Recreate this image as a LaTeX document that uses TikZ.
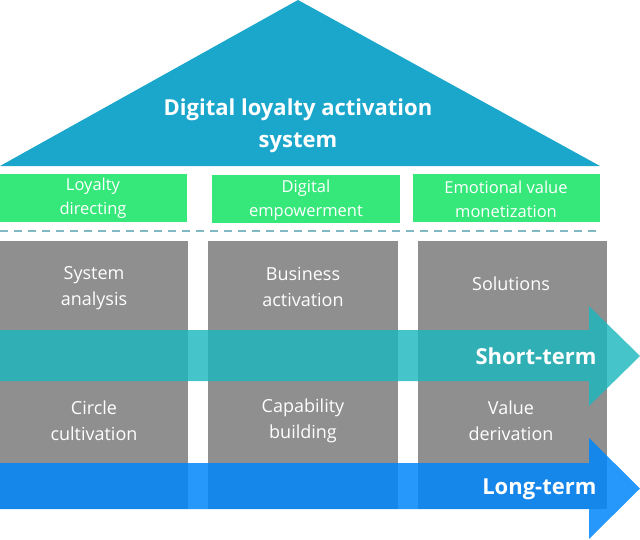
\documentclass[tikz,border=0pt]{standalone}
\usepackage{fontspec}
\setmainfont{Open Sans}
\definecolor{roofc}{RGB}{26,167,203}
\definecolor{greenc}{RGB}{54,232,122}
\definecolor{grayc}{RGB}{143,143,143}
\definecolor{dashc}{RGB}{128,184,196}
\definecolor{shortc}{RGB}{28,183,189}
\definecolor{longc}{RGB}{0,134,250}
\tikzset{
  pillartext/.style={text=white, align=center, font=\fontsize{18}{26}\selectfont},
  greentext/.style={text=white, align=center, font=\fontsize{16.5}{24}\selectfont},
  arrowtext/.style={text=white, anchor=east, font=\bfseries\fontsize{22}{26}\selectfont},
}
\begin{document}
\begin{tikzpicture}[x=1pt,y=-1pt]
\useasboundingbox (0,0) rectangle (640,539);
% roof
\fill[roofc] (298,0) -- (600,166) -- (0,166) -- cycle;
\node[text=white, align=center, font=\bfseries\fontsize{22}{32}\selectfont] (title) at (298,126) {Digital loyalty activation\\system};
% green boxes
\fill[greenc] (0,174) rectangle (187,222);
\fill[greenc] (212,175) rectangle (400,223);
\fill[greenc] (413,174) rectangle (600,222);
\node[greentext] (g1) at (93,198) {Loyalty\\directing};
\node[greentext] (g2) at (306,200) {Digital\\empowerment};
\node[greentext] (g3) at (506,199) {Emotional value\\monetization};
% dashed line
\draw[dashc, line width=2pt, dash pattern=on 8pt off 6pt] (0,231) -- (600,231);
% gray pillars
\fill[grayc] (0,241) rectangle (188,509);
\fill[grayc] (208,241) rectangle (398,509);
\fill[grayc] (418,241) rectangle (607,509);
\node[pillartext] (p1) at (94,288) {System\\analysis};
\node[pillartext] (p2) at (303,287) {Business\\activation};
\node[pillartext] (p3) at (511,284) {Solutions};
\node[pillartext] (p4) at (94,421) {Circle\\cultivation};
\node[pillartext] (p5) at (303,421) {Capability\\building};
\node[pillartext] (p6) at (511,421) {Value\\derivation};
% arrows
\fill[shortc, opacity=0.82] (0,330) -- (589,330) -- (589,306) -- (640,356) -- (589,406) -- (589,381) -- (0,381) -- cycle;
\fill[longc, opacity=0.85] (0,463) -- (589,463) -- (589,438) -- (640,488.5) -- (589,539) -- (589,509) -- (0,509) -- cycle;
\node[arrowtext] (st) at (600,356) {Short-term};
\node[arrowtext] (lt) at (600,489) {Long-term};
\end{tikzpicture}
\end{document}
